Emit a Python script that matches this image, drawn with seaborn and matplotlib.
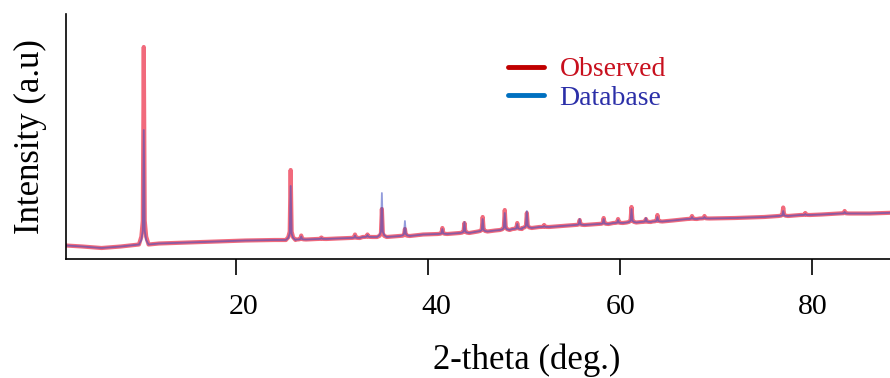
import numpy as np
import pandas as pd
import seaborn as sns
import matplotlib.pyplot as plt
import matplotlib.transforms as mtransforms
from matplotlib.lines import Line2D

# Background level of the pattern (2-theta in degrees, intensity in a.u.)
baseline_theta = [2.3, 4.0, 6.0, 8.0, 12.0, 15.0, 18.0, 21.0, 24.0, 30.5,
                  39.5, 47.0, 54.0, 57.0, 65.5, 72.0, 75.0, 81.0, 86.0, 89.1]
baseline_level = [13.5, 12.5, 11.0, 12.5, 15.5, 16.5, 17.5, 18.5, 19.0, 20.5,
                  24.5, 28.5, 33.0, 34.5, 38.5, 41.0, 42.0, 44.5, 45.5, 46.5]

# Reflections: position, local background, observed and database peak tops
peak_theta = [10.4, 25.7, 26.8, 28.9, 32.4, 33.7, 35.2, 37.6, 41.5, 43.8,
              45.7, 48.0, 49.3, 50.3, 52.1, 55.8, 58.3, 59.8, 61.2, 62.7,
              63.9, 67.5, 68.8, 77.0, 79.3, 83.4]
peak_base = [14.5, 19.0, 19.5, 20.0, 21.0, 22.0, 22.0, 23.0, 25.0, 26.0,
             27.5, 29.0, 30.0, 31.0, 32.0, 34.0, 35.0, 36.0, 36.5, 37.0,
             37.5, 40.0, 40.5, 43.0, 44.0, 45.5]
peak_observed = [212, 89, 23.5, 21.5, 24.5, 24.5, 50, 30, 31, 36,
                 42, 49, 36, 46, 34, 39, 41, 40, 52, 40,
                 44, 43, 43, 51.5, 46, 48]
peak_database = [129, 73, 22.5, 21, 23.5, 24, 66, 38, 30, 37,
                 40, 46, 35, 48, 33, 40, 40, 39, 50, 41,
                 42, 42, 42, 48, 45, 47]

tick_values = [20, 40, 60, 80]

# Peak shape: offsets from the peak centre and fraction of the peak height
SHAPE_OFFSET = [-0.5, -0.25, -0.1, 0.0, 0.1, 0.25, 0.5]
SHAPE_FRACTION = [0.0, 0.04, 0.12, 1.0, 0.12, 0.04, 0.0]


def pattern(tops):
    theta = list(baseline_theta)
    level = list(baseline_level)
    for p, b, t in zip(peak_theta, peak_base, tops):
        for off, frac in zip(SHAPE_OFFSET, SHAPE_FRACTION):
            theta.append(p + off)
            level.append(b + frac * (t - b))
    df = pd.DataFrame({"theta": theta, "intensity": level})
    return df.sort_values("theta").reset_index(drop=True)


observed = pattern(peak_observed)
database = pattern(peak_database)

sns.set_theme(style="white")
plt.rcParams["font.family"] = ["Liberation Serif", "DejaVu Serif"]

fig = plt.figure(figsize=(8.9, 3.78), dpi=100)
ax = fig.add_axes([66 / 890, 1 - 259 / 378, 1 - 66 / 890 + 0.01, (259 - 14) / 378])

sns.lineplot(data=observed, x="theta", y="intensity", estimator=None, sort=False,
             color="#f05a6e", linewidth=3.0, alpha=0.9, ax=ax)
sns.lineplot(data=database, x="theta", y="intensity", estimator=None, sort=False,
             color="#3a4cc0", linewidth=1.3, alpha=0.55, ax=ax)

ax.set_xlim(2.3, 89.05)
ax.set_ylim(0, 245)
ax.set_xticks(tick_values)
ax.set_yticks([])
ax.tick_params(axis="x", direction="out", length=11.5, width=1.2, color="black",
               pad=14, labelsize=21.5, labelcolor="black", bottom=True)
for side in ("top", "right"):
    ax.spines[side].set_visible(False)
for side in ("left", "bottom"):
    ax.spines[side].set_color("black")
    ax.spines[side].set_linewidth(1.2)

# the first two tick labels sit a little right of their ticks
for tick, shift in zip(ax.xaxis.get_major_ticks(), [8, 8, 1, 1]):
    tick.label1.set_transform(tick.label1.get_transform()
                              + mtransforms.ScaledTranslation(shift / 100, 0, fig.dpi_scale_trans))

ax.set_xlabel("2-theta (deg.)", fontsize=25, color="black")
ax.xaxis.set_label_coords(0.553, -0.345)
ax.set_ylabel("Intensity (a.u)", fontsize=25, labelpad=14, color="black")

handles = [Line2D([], [], color="#c00000", linewidth=3.5),
           Line2D([], [], color="#0070c0", linewidth=3.5)]
ax.legend(handles, ["Observed", "Database"], loc="upper left",
          bbox_to_anchor=(508 / 890, 1 - 57 / 378), bbox_transform=fig.transFigure,
          frameon=False, fontsize=20, handlelength=1.3, handletextpad=0.55,
          labelspacing=0.1, borderpad=0, borderaxespad=0,
          labelcolor=["#c8101e", "#2b2fa8"])

fig.savefig("out.png", dpi=100, facecolor="white")
